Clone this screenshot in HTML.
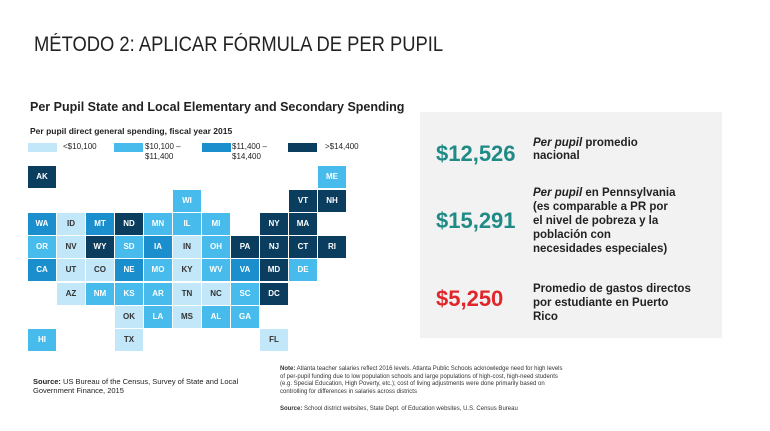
<!DOCTYPE html>
<html><head><meta charset="utf-8"><style>
*{margin:0;padding:0;box-sizing:border-box}
body{width:770px;height:431px;background:#fff;position:relative;overflow:hidden;font-family:"Liberation Sans",sans-serif}
.a{position:absolute;white-space:nowrap}
.t{position:absolute;width:28px;height:22px;color:#fff;font-size:8px;font-weight:bold;text-align:center;line-height:22px}
.d{background:#0b3e5e}.m{background:#1b8fce}.l{background:#46bbec}.x{background:#c2e7f8;color:#333}
</style></head><body>
<div class="a" style="left:34px;top:33px;font-size:21px;color:#222;transform:scaleX(0.875);transform-origin:left">MÉTODO 2: APLICAR FÓRMULA DE PER PUPIL</div>
<div class="a" style="left:30px;top:100px;font-size:12.5px;font-weight:bold;color:#222">Per Pupil State and Local Elementary and Secondary Spending</div>
<div class="a" style="left:30px;top:126px;font-size:8.5px;font-weight:bold;color:#222">Per pupil direct general spending, fiscal year 2015</div>
<div class="a x" style="left:28px;top:143px;width:29px;height:9px"></div><div class="a" style="left:63px;top:142px;font-size:8px;color:#222">&lt;$10,100</div>
<div class="a l" style="left:114px;top:143px;width:29px;height:9px"></div><div class="a" style="left:145px;top:142px;font-size:8px;color:#222;line-height:10px">$10,100 –<br>$11,400</div>
<div class="a m" style="left:202px;top:143px;width:29px;height:9px"></div><div class="a" style="left:232px;top:142px;font-size:8px;color:#222;line-height:10px">$11,400 –<br>$14,400</div>
<div class="a d" style="left:288px;top:143px;width:29px;height:9px"></div><div class="a" style="left:325px;top:142px;font-size:8px;color:#222">&gt;$14,400</div>
<div id="g"></div>
<script>
var rows=[166,189.5,213,236,259,283,306,329];
var s=[
[0,0,'AK','d'],[0,10,'ME','l'],
[1,5,'WI','l'],[1,9,'VT','d'],[1,10,'NH','d'],
[2,0,'WA','m'],[2,1,'ID','x'],[2,2,'MT','m'],[2,3,'ND','d'],[2,4,'MN','l'],[2,5,'IL','l'],[2,6,'MI','l'],[2,8,'NY','d'],[2,9,'MA','d'],
[3,0,'OR','l'],[3,1,'NV','x'],[3,2,'WY','d'],[3,3,'SD','l'],[3,4,'IA','m'],[3,5,'IN','x'],[3,6,'OH','l'],[3,7,'PA','d'],[3,8,'NJ','d'],[3,9,'CT','d'],[3,10,'RI','d'],
[4,0,'CA','m'],[4,1,'UT','x'],[4,2,'CO','x'],[4,3,'NE','m'],[4,4,'MO','l'],[4,5,'KY','x'],[4,6,'WV','l'],[4,7,'VA','m'],[4,8,'MD','d'],[4,9,'DE','l'],
[5,1,'AZ','x'],[5,2,'NM','l'],[5,3,'KS','l'],[5,4,'AR','l'],[5,5,'TN','x'],[5,6,'NC','x'],[5,7,'SC','l'],[5,8,'DC','d'],
[6,3,'OK','x'],[6,4,'LA','l'],[6,5,'MS','x'],[6,6,'AL','l'],[6,7,'GA','l'],
[7,0,'HI','l'],[7,3,'TX','x'],[7,8,'FL','x']];
var h='';s.forEach(function(e){h+='<div class="t '+e[3]+'" style="left:'+(28+e[1]*29)+'px;top:'+rows[e[0]]+'px">'+e[2]+'</div>'});
document.getElementById('g').innerHTML=h;
</script>
<div class="a" style="left:33px;top:377px;font-size:7.5px;color:#222;line-height:9px"><b>Source:</b> US Bureau of the Census, Survey of State and Local<br>Government Finance, 2015</div>
<div class="a" style="left:280px;top:366px;font-size:6px;color:#333;line-height:7.5px"><b>Note:</b> Atlanta teacher salaries reflect 2016 levels. Atlanta Public Schools acknowledge need for high levels<br>of per-pupil funding due to low population schools and large populations of high-cost, high-need students<br>(e.g. Special Education, High Poverty, etc.); cost of living adjustments were done primarily based on<br>controlling for differences in salaries across districts</div>
<div class="a" style="left:280px;top:406px;font-size:6px;color:#333"><b>Source:</b> School district websites, State Dept. of Education websites, U.S. Census Bureau</div>
<div class="a" style="left:420px;top:112px;width:302px;height:226px;background:#f2f2f2"></div>
<div class="a" style="left:436px;top:141px;font-size:22px;font-weight:bold;color:#1f8a86">$12,526</div>
<div class="a" style="left:533px;top:137px;font-size:11.5px;font-weight:bold;color:#222;line-height:13px"><i>Per pupil</i> promedio<br>nacional</div>
<div class="a" style="left:436px;top:208px;font-size:22px;font-weight:bold;color:#1f8a86">$15,291</div>
<div class="a" style="left:533px;top:186px;font-size:11.5px;font-weight:bold;color:#222;line-height:14px"><i>Per pupil</i> en Pennsylvania<br>(es comparable a PR por<br>el nivel de pobreza y la<br>población con<br>necesidades especiales)</div>
<div class="a" style="left:436px;top:286px;font-size:22px;font-weight:bold;color:#e0252b">$5,250</div>
<div class="a" style="left:533px;top:282px;font-size:11.5px;font-weight:bold;color:#222;line-height:14px">Promedio de gastos directos<br>por estudiante en Puerto<br>Rico</div>
</body></html>
